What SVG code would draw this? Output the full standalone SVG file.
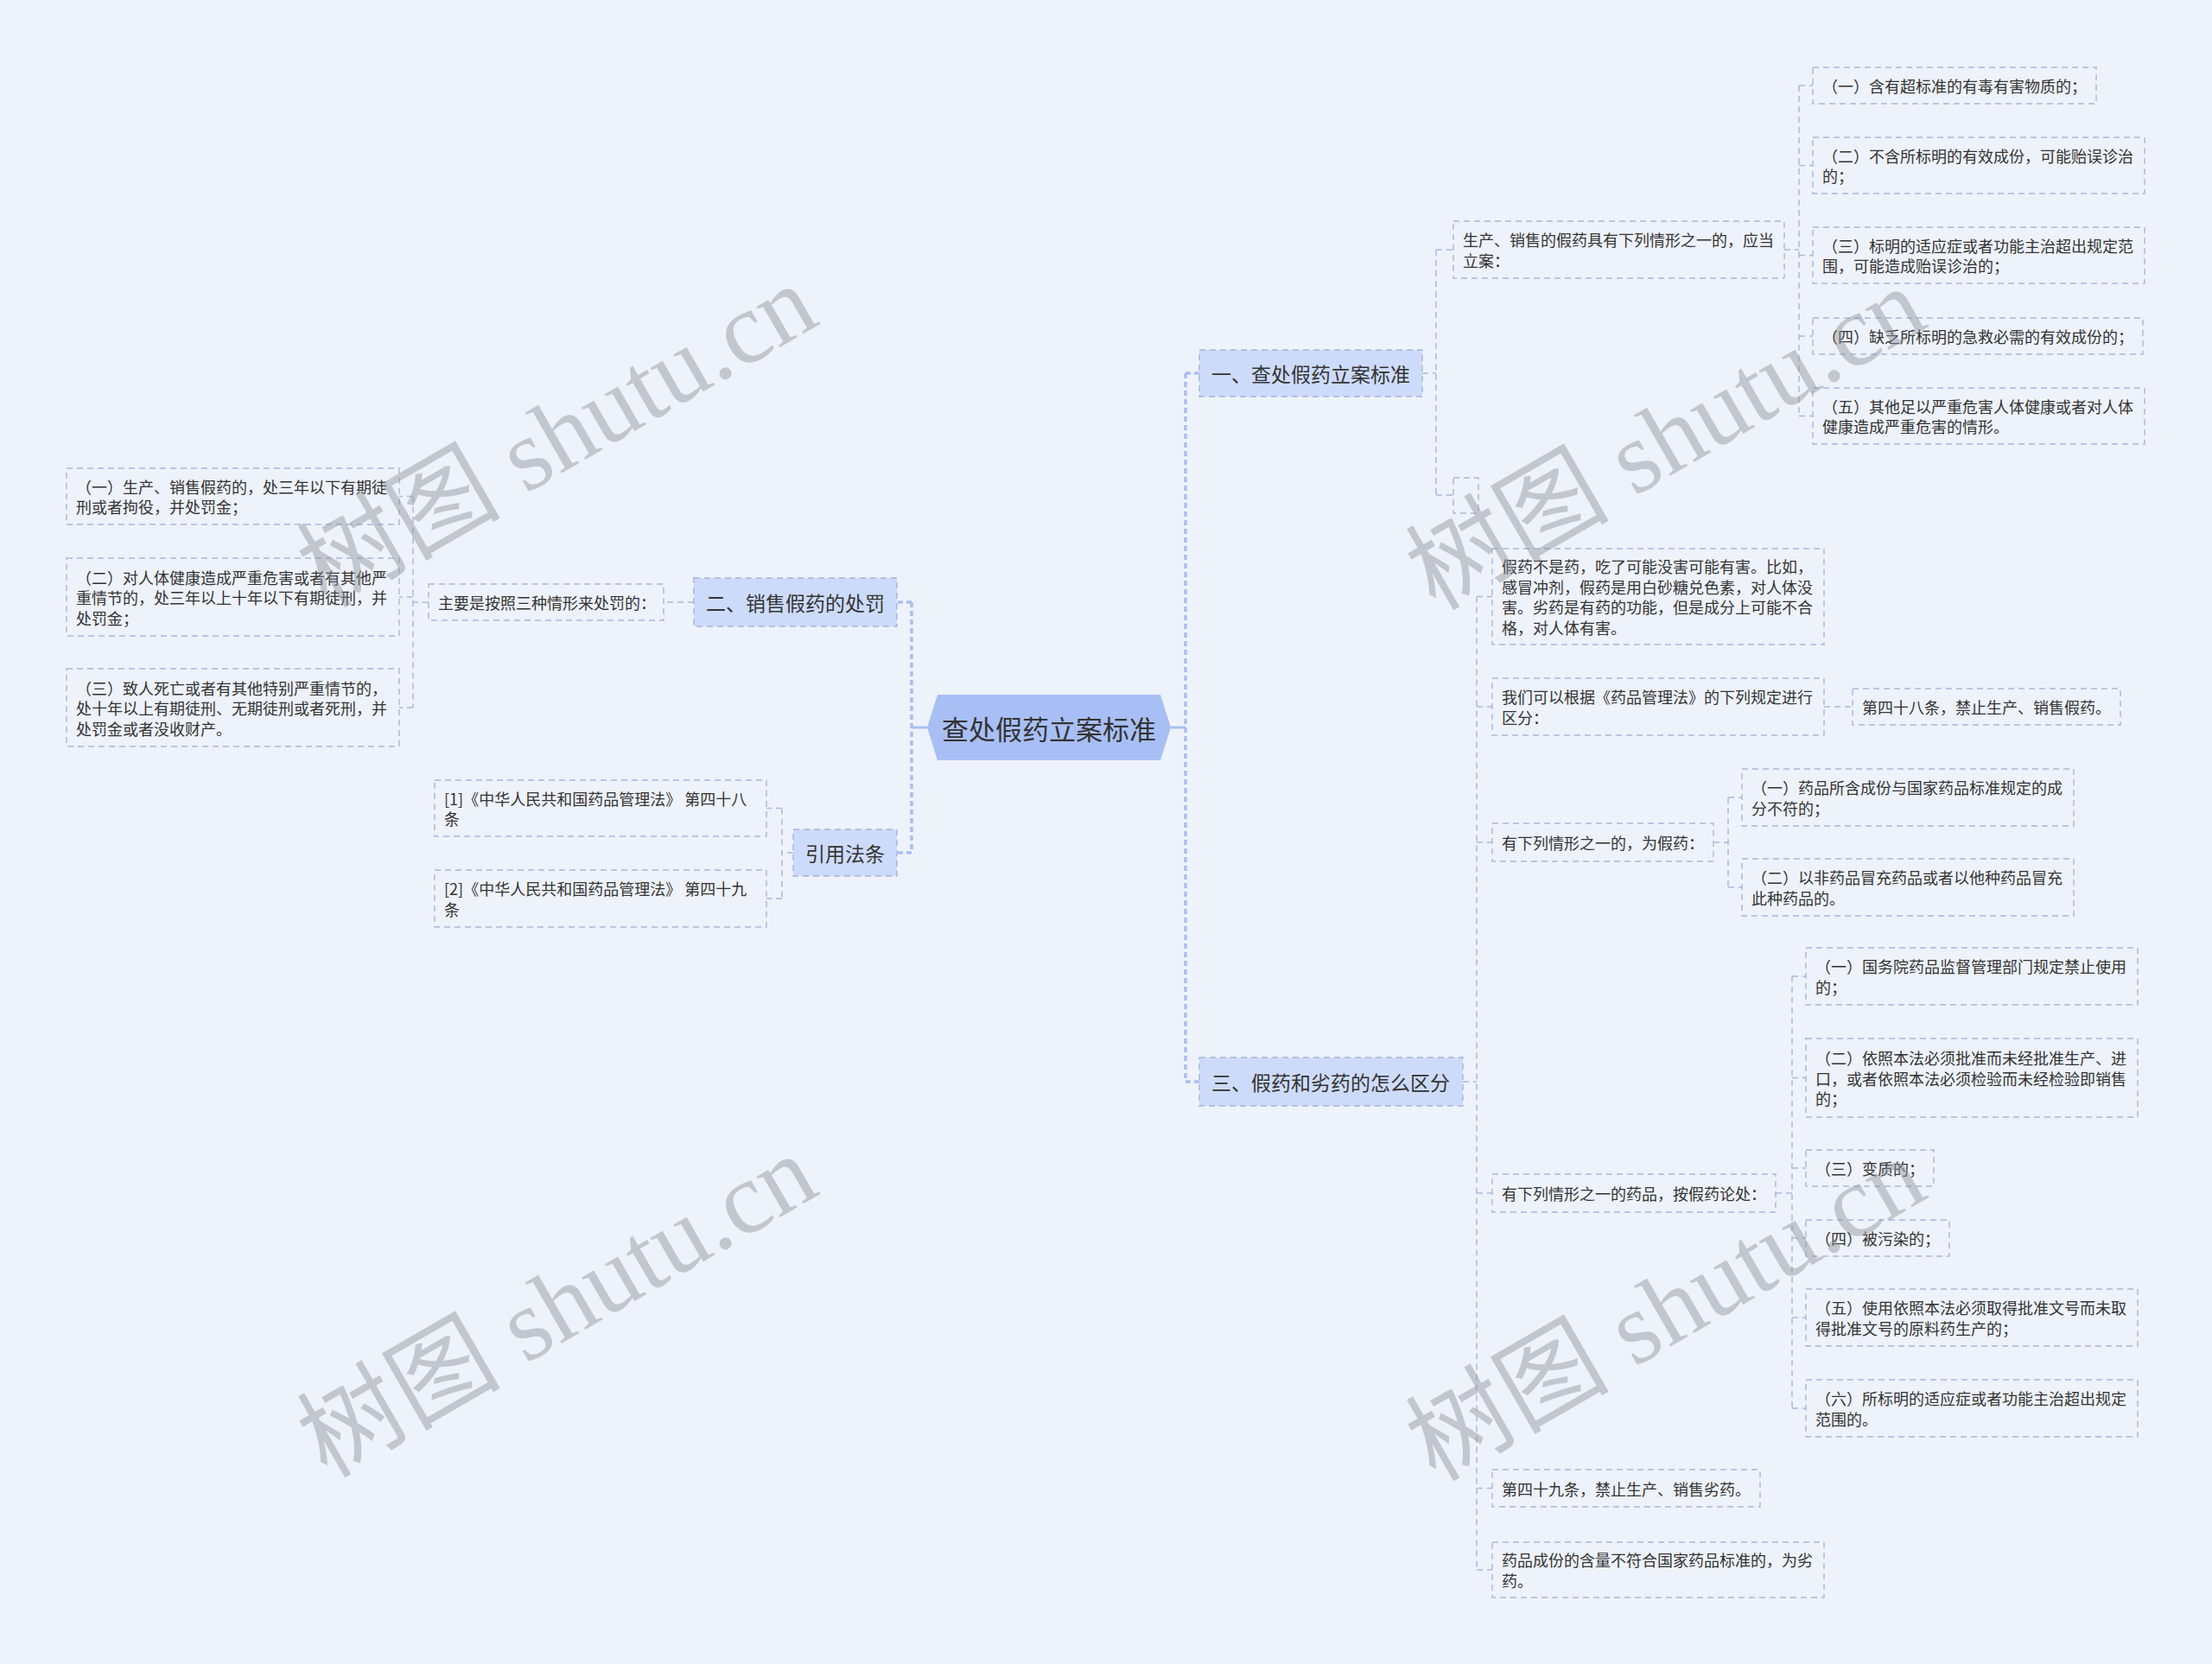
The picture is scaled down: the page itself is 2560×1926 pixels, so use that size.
<svg xmlns="http://www.w3.org/2000/svg" width="2560" height="1926" viewBox="0 0 2560 1926">
<defs>
<style>
.bg{fill:#eef2fa}
.box{fill:none;stroke:#a9b8d8;stroke-width:1.4;stroke-dasharray:7 5}
.l1{fill:#cddbfa;stroke:#a5b5d8;stroke-width:1.4;stroke-dasharray:7 5}
.root{fill:#a8bff5}
.t{font-family:"Noto Sans CJK SC","Noto Sans",sans-serif;font-size:18px;fill:#333;dominant-baseline:central}
.t1{font-family:"Noto Sans CJK SC","Noto Sans",sans-serif;font-size:23px;fill:#333;dominant-baseline:central}
.t0{font-family:"Noto Sans CJK SC","Noto Sans",sans-serif;font-size:31px;fill:#333;dominant-baseline:central;text-anchor:middle}
.lk{fill:none;stroke:#a9badc;stroke-width:1.5;stroke-dasharray:7 5}
.lk0{fill:none;stroke:#a9bef0;stroke-width:3.5;stroke-dasharray:6 4}
.lk0s{fill:none;stroke:#a9bef0;stroke-width:3}
.wm{font-family:"Liberation Serif","Noto Sans CJK SC",serif;font-size:118px;fill:#8f949c;opacity:0.45}
</style>
</defs>
<rect class="bg" x="0" y="0" width="2560" height="1926"/>

<g id="connectors">
<path class="lk0s" d="M1355,842 H1372 M1073,842 H1055"/>
<path class="lk0" d="M1372,432 V1252 M1372,432 H1388 M1372,1252 H1388"/>
<path class="lk0" d="M1055,697 V987 M1055,697 H1038 M1055,987 H1038"/>
<path class="lk" d="M1646,432 H1662 M1662,289 V573 M1662,289 H1682 M1662,573 H1682"/>
<path class="lk" d="M2065,289 H2082 M2082,99 V481.5 M2082,99 H2098 M2082,191.5 H2098 M2082,295.5 H2098 M2082,389 H2098 M2082,481.5 H2098"/>
<path class="lk" d="M1693,1252 H1709 M1709,690.5 V1817 M1709,690.5 H1727 M1709,818 H1727 M1709,975 H1727 M1709,1381 H1727 M1709,1722.5 H1727 M1709,1817 H1727"/>
<path class="lk" d="M2111,818 H2144"/>
<path class="lk" d="M1983,975 H2000 M2000,923 V1027 M2000,923 H2016 M2000,1027 H2016"/>
<path class="lk" d="M2055,1381 H2074 M2074,1130 V1630 M2074,1130 H2090 M2074,1247.5 H2090 M2074,1352 H2090 M2074,1433 H2090 M2074,1525 H2090 M2074,1630 H2090"/>
<path class="lk" d="M803,697 H768 M496,697 H478 M478,574.5 V819 M478,574.5 H462 M478,691 H462 M478,819 H462"/>
<path class="lk" d="M918,987 H905 M905,935.5 V1040 M905,935.5 H887 M905,1040 H887"/>
</g>

<g id="root">
<polygon class="root" points="1073,842 1085,804 1343,804 1355,842 1343,880 1085,880"/>
<text class="t0" x="1214" y="842">查处假药立案标准</text>
</g>

<g id="n1">
<rect class="l1" x="1388" y="405" width="258" height="54"/>
<text class="t1" x="1402" y="432">一、查处假药立案标准</text>
</g>
<g id="n1a">
<rect class="box" x="1682" y="256" width="383" height="66"/>
<text class="t" x="1693" y="277.25">生产、销售的假药具有下列情形之一的，应当</text>
<text class="t" x="1693" y="300.75">立案：</text>
</g>
<g id="n1b">
<rect class="box" x="1682" y="553" width="29" height="41"/>
</g>
<g id="n1a1">
<rect class="box" x="2098" y="78" width="328" height="42"/>
<text class="t" x="2109" y="99">（一）含有超标准的有毒有害物质的；</text>
</g>
<g id="n1a2">
<rect class="box" x="2098" y="159" width="384" height="65"/>
<text class="t" x="2109" y="179.75">（二）不含所标明的有效成份，可能贻误诊治</text>
<text class="t" x="2109" y="203.25">的；</text>
</g>
<g id="n1a3">
<rect class="box" x="2098" y="263" width="384" height="65"/>
<text class="t" x="2109" y="283.75">（三）标明的适应症或者功能主治超出规定范</text>
<text class="t" x="2109" y="307.25">围，可能造成贻误诊治的；</text>
</g>
<g id="n1a4">
<rect class="box" x="2098" y="368" width="382" height="42"/>
<text class="t" x="2109" y="389">（四）缺乏所标明的急救必需的有效成份的；</text>
</g>
<g id="n1a5">
<rect class="box" x="2098" y="449" width="384" height="65"/>
<text class="t" x="2109" y="469.75">（五）其他足以严重危害人体健康或者对人体</text>
<text class="t" x="2109" y="493.25">健康造成严重危害的情形。</text>
</g>

<g id="n3">
<rect class="l1" x="1388" y="1224" width="305" height="56"/>
<text class="t1" x="1402" y="1252">三、假药和劣药的怎么区分</text>
</g>
<g id="n3a">
<rect class="box" x="1727" y="635" width="384" height="111"/>
<text class="t" x="1738" y="655.25">假药不是药，吃了可能没害可能有害。比如，</text>
<text class="t" x="1738" y="678.75">感冒冲剂，假药是用白砂糖兑色素，对人体没</text>
<text class="t" x="1738" y="702.25">害。劣药是有药的功能，但是成分上可能不合</text>
<text class="t" x="1738" y="725.75">格，对人体有害。</text>
</g>
<g id="n3b">
<rect class="box" x="1727" y="785" width="384" height="66"/>
<text class="t" x="1738" y="806.25">我们可以根据《药品管理法》的下列规定进行</text>
<text class="t" x="1738" y="829.75">区分：</text>
</g>
<g id="n3b1">
<rect class="box" x="2144" y="797" width="310" height="42"/>
<text class="t" x="2155" y="818">第四十八条，禁止生产、销售假药。</text>
</g>
<g id="n3c">
<rect class="box" x="1727" y="953" width="256" height="44"/>
<text class="t" x="1738" y="975">有下列情形之一的，为假药：</text>
</g>
<g id="n3c1">
<rect class="box" x="2016" y="890" width="384" height="66"/>
<text class="t" x="2027" y="911.25">（一）药品所含成份与国家药品标准规定的成</text>
<text class="t" x="2027" y="934.75">分不符的；</text>
</g>
<g id="n3c2">
<rect class="box" x="2016" y="994" width="384" height="66"/>
<text class="t" x="2027" y="1015.25">（二）以非药品冒充药品或者以他种药品冒充</text>
<text class="t" x="2027" y="1038.75">此种药品的。</text>
</g>
<g id="n3d">
<rect class="box" x="1727" y="1359" width="328" height="44"/>
<text class="t" x="1738" y="1381">有下列情形之一的药品，按假药论处：</text>
</g>
<g id="n3d1">
<rect class="box" x="2090" y="1097" width="384" height="66"/>
<text class="t" x="2101" y="1118.25">（一）国务院药品监督管理部门规定禁止使用</text>
<text class="t" x="2101" y="1141.75">的；</text>
</g>
<g id="n3d2">
<rect class="box" x="2090" y="1202" width="384" height="91"/>
<text class="t" x="2101" y="1224">（二）依照本法必须批准而未经批准生产、进</text>
<text class="t" x="2101" y="1247.5">口，或者依照本法必须检验而未经检验即销售</text>
<text class="t" x="2101" y="1271">的；</text>
</g>
<g id="n3d3">
<rect class="box" x="2090" y="1331" width="148" height="42"/>
<text class="t" x="2101" y="1352">（三）变质的；</text>
</g>
<g id="n3d4">
<rect class="box" x="2090" y="1412" width="166" height="42"/>
<text class="t" x="2101" y="1433">（四）被污染的；</text>
</g>
<g id="n3d5">
<rect class="box" x="2090" y="1492" width="384" height="66"/>
<text class="t" x="2101" y="1513.25">（五）使用依照本法必须取得批准文号而未取</text>
<text class="t" x="2101" y="1536.75">得批准文号的原料药生产的；</text>
</g>
<g id="n3d6">
<rect class="box" x="2090" y="1597" width="384" height="66"/>
<text class="t" x="2101" y="1618.25">（六）所标明的适应症或者功能主治超出规定</text>
<text class="t" x="2101" y="1641.75">范围的。</text>
</g>
<g id="n3e">
<rect class="box" x="1727" y="1701" width="310" height="43"/>
<text class="t" x="1738" y="1722.5">第四十九条，禁止生产、销售劣药。</text>
</g>
<g id="n3f">
<rect class="box" x="1727" y="1785" width="384" height="64"/>
<text class="t" x="1738" y="1805.25">药品成份的含量不符合国家药品标准的，为劣</text>
<text class="t" x="1738" y="1828.75">药。</text>
</g>

<g id="n2">
<rect class="l1" x="803" y="669" width="235" height="56"/>
<text class="t1" x="817" y="697">二、销售假药的处罚</text>
</g>
<g id="n2a">
<rect class="box" x="496" y="676" width="272" height="42"/>
<text class="t" x="507" y="697">主要是按照三种情形来处罚的：</text>
</g>
<g id="n2a1">
<rect class="box" x="77" y="542" width="385" height="65"/>
<text class="t" x="88" y="562.75">（一）生产、销售假药的，处三年以下有期徒</text>
<text class="t" x="88" y="586.25">刑或者拘役，并处罚金；</text>
</g>
<g id="n2a2">
<rect class="box" x="77" y="646" width="385" height="90"/>
<text class="t" x="88" y="667.5">（二）对人体健康造成严重危害或者有其他严</text>
<text class="t" x="88" y="691">重情节的，处三年以上十年以下有期徒刑，并</text>
<text class="t" x="88" y="714.5">处罚金；</text>
</g>
<g id="n2a3">
<rect class="box" x="77" y="774" width="385" height="90"/>
<text class="t" x="88" y="795.5">（三）致人死亡或者有其他特别严重情节的，</text>
<text class="t" x="88" y="819">处十年以上有期徒刑、无期徒刑或者死刑，并</text>
<text class="t" x="88" y="842.5">处罚金或者没收财产。</text>
</g>

<g id="n4">
<rect class="l1" x="918" y="960" width="120" height="54"/>
<text class="t1" x="932" y="987">引用法条</text>
</g>
<g id="n4a">
<rect class="box" x="503" y="903" width="384" height="65"/>
<text class="t" x="514" y="923.75">[1]《中华人民共和国药品管理法》 第四十八</text>
<text class="t" x="514" y="947.25">条</text>
</g>
<g id="n4b">
<rect class="box" x="503" y="1007" width="384" height="66"/>
<text class="t" x="514" y="1028.25">[2]《中华人民共和国药品管理法》 第四十九</text>
<text class="t" x="514" y="1051.75">条</text>
</g>

<g id="watermarks">
<text class="wm" x="645" y="505" text-anchor="middle" dominant-baseline="central" transform="rotate(-30 645 505)">树图 shutu.cn</text>
<text class="wm" x="1928" y="508" text-anchor="middle" dominant-baseline="central" transform="rotate(-30 1928 508)">树图 shutu.cn</text>
<text class="wm" x="645" y="1512" text-anchor="middle" dominant-baseline="central" transform="rotate(-30 645 1512)">树图 shutu.cn</text>
<text class="wm" x="1928" y="1516" text-anchor="middle" dominant-baseline="central" transform="rotate(-30 1928 1516)">树图 shutu.cn</text>
</g>
</svg>
